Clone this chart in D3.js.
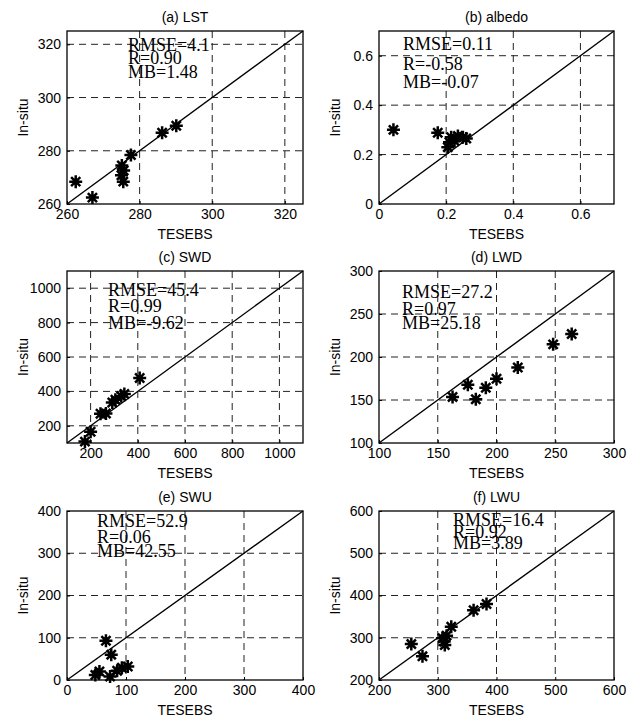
<!DOCTYPE html>
<html>
<head>
  <script src="https://d3js.org/d3.v7.min.js"></script>
  <style>
    body { margin: 0; background: #fff; }
    .lab { font-family: "Liberation Sans", Arial, sans-serif; font-size: 14px; fill: #000; }
    .stat { font-family: "Liberation Serif", "Times New Roman", serif; font-size: 18px; fill: #000; }
  </style>
</head>
<body>
  <script>
    // panel titles and axis settings
    const titles = ["(a) LST", "(b) albedo", "(c) SWD", "(d) LWD", "(e) SWU", "(f) LWU"];
    const domains = [[260, 325], [0, 0.7], [100, 1100], [100, 300], [0, 400], [200, 600]];
    const tickVals = [
      [260, 280, 300, 320],
      [0, 0.2, 0.4, 0.6],
      [200, 400, 600, 800, 1000],
      [100, 150, 200, 250, 300],
      [0, 100, 200, 300, 400],
      [200, 300, 400, 500, 600]
    ];
    const xLabel = "TESEBS";
    const yLabel = "In-situ";

    // statistics shown in each panel
    const rmse = ["4.1", "0.11", "45.4", "27.2", "52.9", "16.4"];
    const rVal = ["0.90", "-0.58", "0.99", "0.97", "0.06", "0.92"];
    const mb = ["1.48", "-0.07", "-9.62", "25.18", "42.55", "3.89"];

    // scatter values (TESEBS vs in-situ)
    const lstX = [262.4, 267.0, 275.1, 275.6, 275.0, 275.5, 277.6, 286.2, 290.1];
    const lstY = [268.4, 262.4, 274.5, 272.6, 270.8, 268.4, 278.4, 286.8, 289.4];
    const albX = [0.043, 0.175, 0.205, 0.21, 0.215, 0.225, 0.235, 0.25, 0.26];
    const albY = [0.30, 0.288, 0.23, 0.25, 0.27, 0.255, 0.275, 0.27, 0.265];
    const swdX = [176, 200, 242, 265, 292, 305, 330, 343, 408];
    const swdY = [108, 165, 270, 272, 335, 352, 372, 385, 478];
    const lwdX = [162.6, 175.6, 182.4, 190.9, 200, 218.1, 248.2, 264];
    const lwdY = [153.6, 167.7, 150.9, 164.2, 174.8, 187.7, 214.7, 226.8];
    const swuX = [66, 75, 48, 55, 73, 85, 93, 103];
    const swuY = [93, 60, 12, 20, 8, 22, 29, 32];
    const lwuX = [255, 274, 308, 311, 312, 315, 323, 361, 383];
    const lwuY = [285, 256, 299, 291, 283, 305, 326, 365, 380];

    const xs = [lstX, albX, swdX, lwdX, swuX, lwuX];
    const ys = [lstY, albY, swdY, lwdY, swuY, lwuY];

    // layout
    const W = 627, H = 720;
    const cols = [[67, 303], [379, 614]];
    const rows = [[31, 204], [271, 443], [511, 680]];
    // stats text: x and baselines
    const statPos = [
      [128, [51, 64, 77.5]],
      [403, [50, 70, 88]],
      [108, [296, 312, 329]],
      [402, [298, 315, 329]],
      [97, [527, 543, 557]],
      [453, [526, 537.5, 548.5]]
    ];

    const svg = d3.select("body")
      .append("svg")
      .attr("width", W)
      .attr("height", H);

    svg.append("rect").attr("width", W).attr("height", H).attr("fill", "#fff");

    // asterisk marker
    const r = 6.5, q = r * 0.7071;
    const star = `M${-r},0L${r},0M0,${-r}L0,${r}M${-q},${-q}L${q},${q}M${-q},${q}L${q},${-q}`;

    titles.forEach((t, i) => {
      const [x0, x1] = cols[i % 2];
      const [y0, y1] = rows[Math.floor(i / 2)];

      const xScale = d3.scaleLinear().domain(domains[i]).range([x0, x1]);
      const yScale = d3.scaleLinear().domain(domains[i]).range([y1, y0]);
      const g = svg.append("g");

      // dashed grid
      const inner = tickVals[i].filter(v => v > domains[i][0] && v < domains[i][1]);
      g.selectAll(".gx").data(inner).enter().append("line")
        .attr("x1", d => xScale(d)).attr("x2", d => xScale(d))
        .attr("y1", y0).attr("y2", y1)
        .attr("stroke", "#222").attr("stroke-dasharray", "7,5");
      g.selectAll(".gy").data(inner).enter().append("line")
        .attr("y1", d => yScale(d)).attr("y2", d => yScale(d))
        .attr("x1", x0).attr("x2", x1)
        .attr("stroke", "#222").attr("stroke-dasharray", "7,5");

      // axes (ticks inside the box)
      const fmt = d => String(d);
      g.append("g")
        .attr("transform", `translate(0,${y1})`)
        .call(d3.axisBottom(xScale).tickValues(tickVals[i]).tickSizeInner(-3).tickSizeOuter(0).tickPadding(5).tickFormat(fmt))
        .call(a => a.select(".domain").remove())
        .call(a => a.selectAll("text").attr("class", "lab").attr("font-family", null).attr("font-size", null));
      g.append("g")
        .attr("transform", `translate(${x0},0)`)
        .call(d3.axisLeft(yScale).tickValues(tickVals[i]).tickSizeInner(-3).tickSizeOuter(0).tickPadding(6).tickFormat(fmt))
        .call(a => a.select(".domain").remove())
        .call(a => a.selectAll("text").attr("class", "lab").attr("font-family", null).attr("font-size", null));

      // 1:1 line
      g.append("line")
        .attr("x1", xScale(domains[i][0])).attr("y1", yScale(domains[i][0]))
        .attr("x2", xScale(domains[i][1])).attr("y2", yScale(domains[i][1]))
        .attr("stroke", "#000").attr("stroke-width", 1.4);

      // box
      g.append("rect")
        .attr("x", x0).attr("y", y0).attr("width", x1 - x0).attr("height", y1 - y0)
        .attr("fill", "none").attr("stroke", "#000").attr("stroke-width", 1.3);

      // points
      g.selectAll(".pt").data(xs[i].map((v, k) => [v, ys[i][k]])).enter().append("path")
        .attr("d", star)
        .attr("transform", d => `translate(${xScale(d[0])},${yScale(d[1])})`)
        .attr("stroke", "#000").attr("stroke-width", 2.5).attr("fill", "none");

      // stats
      const sp = statPos[i];
      ["RMSE=" + rmse[i], "R=" + rVal[i], "MB=" + mb[i]].forEach((s, k) => {
        g.append("text").attr("class", "stat")
          .attr("x", sp[0]).attr("y", sp[1][k]).text(s);
      });

      // titles and axis labels
      g.append("text").attr("class", "lab")
        .attr("x", (x0 + x1) / 2).attr("y", y0 - 9)
        .attr("text-anchor", "middle").text(t);
      g.append("text").attr("class", "lab")
        .attr("x", (x0 + x1) / 2).attr("y", y1 + 35)
        .attr("text-anchor", "middle").text(xLabel);
      g.append("text").attr("class", "lab")
        .attr("transform", `translate(${x0 - 39},${(y0 + y1) / 2}) rotate(-90)`)
        .attr("text-anchor", "middle").text(yLabel);
    });
  </script>
</body>
</html>
